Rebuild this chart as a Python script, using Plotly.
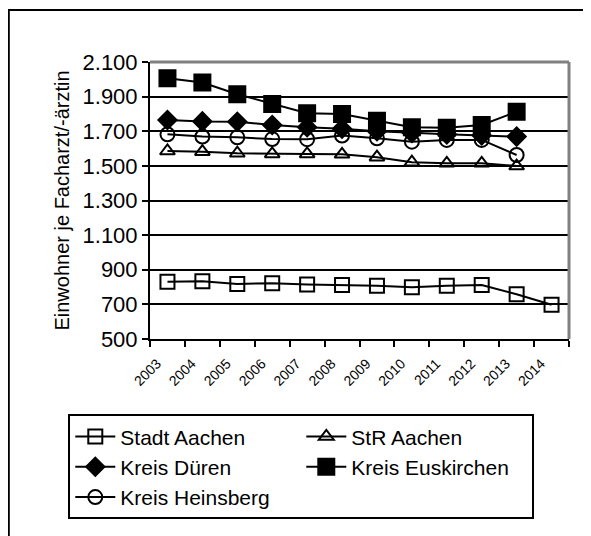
import plotly.graph_objects as go

years = ["2003", "2004", "2005", "2006", "2007", "2008", "2009", "2010", "2011", "2012", "2013", "2014"]
stadt_aachen = [831, 833, 818, 822, 815, 812, 808, 799, 808, 812, 758, 698]
str_aachen = [1586, 1582, 1573, 1569, 1569, 1567, 1550, 1521, 1515, 1515, 1499]
kreis_dueren = [1765, 1757, 1755, 1736, 1723, 1714, 1700, 1690, 1682, 1676, 1669]
kreis_euskirchen = [2006, 1981, 1914, 1858, 1804, 1800, 1761, 1723, 1720, 1736, 1813]
kreis_heinsberg = [1682, 1669, 1665, 1655, 1654, 1675, 1659, 1640, 1650, 1650, 1563]

series = [
    ("Stadt Aachen", stadt_aachen, "square-open", 14),
    ("StR Aachen", str_aachen, "triangle-up-open", 13),
    ("Kreis Düren", kreis_dueren, "diamond", 14),
    ("Kreis Euskirchen", kreis_euskirchen, "square", 16),
    ("Kreis Heinsberg", kreis_heinsberg, "circle-open", 14),
]

FONT = "Liberation Sans, Arial, sans-serif"

fig = go.Figure()
for name, vals, sym, sz in series:
    xs = [i + 0.5 for i in range(len(vals))]
    fig.add_trace(go.Scatter(
        x=xs, y=vals, name=name, mode="lines+markers",
        line=dict(color="black", width=2),
        marker=dict(symbol=sym, size=sz, color="black",
                    line=dict(color="black", width=2)),
    ))

fig.update_layout(
    width=583, height=528,
    margin=dict(l=142, r=22, t=54, b=197),
    paper_bgcolor="white", plot_bgcolor="white",
    separators=",.",
    font=dict(family=FONT, color="black", size=20),
    showlegend=True,
    legend=dict(
        orientation="h", x=-0.195, xanchor="left", y=-0.272, yanchor="top",
        bordercolor="black", borderwidth=2, bgcolor="white",
        entrywidth=176, entrywidthmode="pixels",
        font=dict(family=FONT, size=21, color="black"),
        itemwidth=40,
    ),
    xaxis=dict(
        range=[0, 12],
        tickmode="array",
        tickvals=list(range(13)),
        ticktext=years + [""],
        tickangle=-45,
        tickfont=dict(family=FONT, size=14),
        ticklabelshift=7, ticklabelstandoff=3,
        showgrid=False, zeroline=False,
        showline=True, linecolor="black", linewidth=2,
        ticks="outside", ticklen=6, tickwidth=2, tickcolor="black",
    ),
    yaxis=dict(
        range=[500, 2100],
        tickmode="linear", tick0=500, dtick=200,
        tickformat=",d",
        tickfont=dict(family=FONT, size=22),
        showgrid=True, gridcolor="black", gridwidth=2,
        zeroline=False,
        showline=True, linecolor="black", linewidth=2,
        ticks="outside", ticklen=6, tickwidth=2, tickcolor="black",
        title=dict(text="Einwohner je Facharzt/-ärztin",
                   font=dict(family=FONT, size=20), standoff=8),
    ),
    shapes=[
        dict(type="line", xref="paper", yref="paper", x0=0, x1=1, y0=1, y1=1,
             line=dict(color="#808080", width=3), layer="above"),
        dict(type="line", xref="paper", yref="paper", x0=1, x1=1, y0=0, y1=1,
             line=dict(color="#808080", width=3), layer="above"),
        dict(type="rect", xref="paper", yref="paper", x0=-0.337, x1=1.2, y0=1.188, y1=-1.0,
             line=dict(color="black", width=2), layer="below"),
    ],
)

fig.write_html("out.html")
